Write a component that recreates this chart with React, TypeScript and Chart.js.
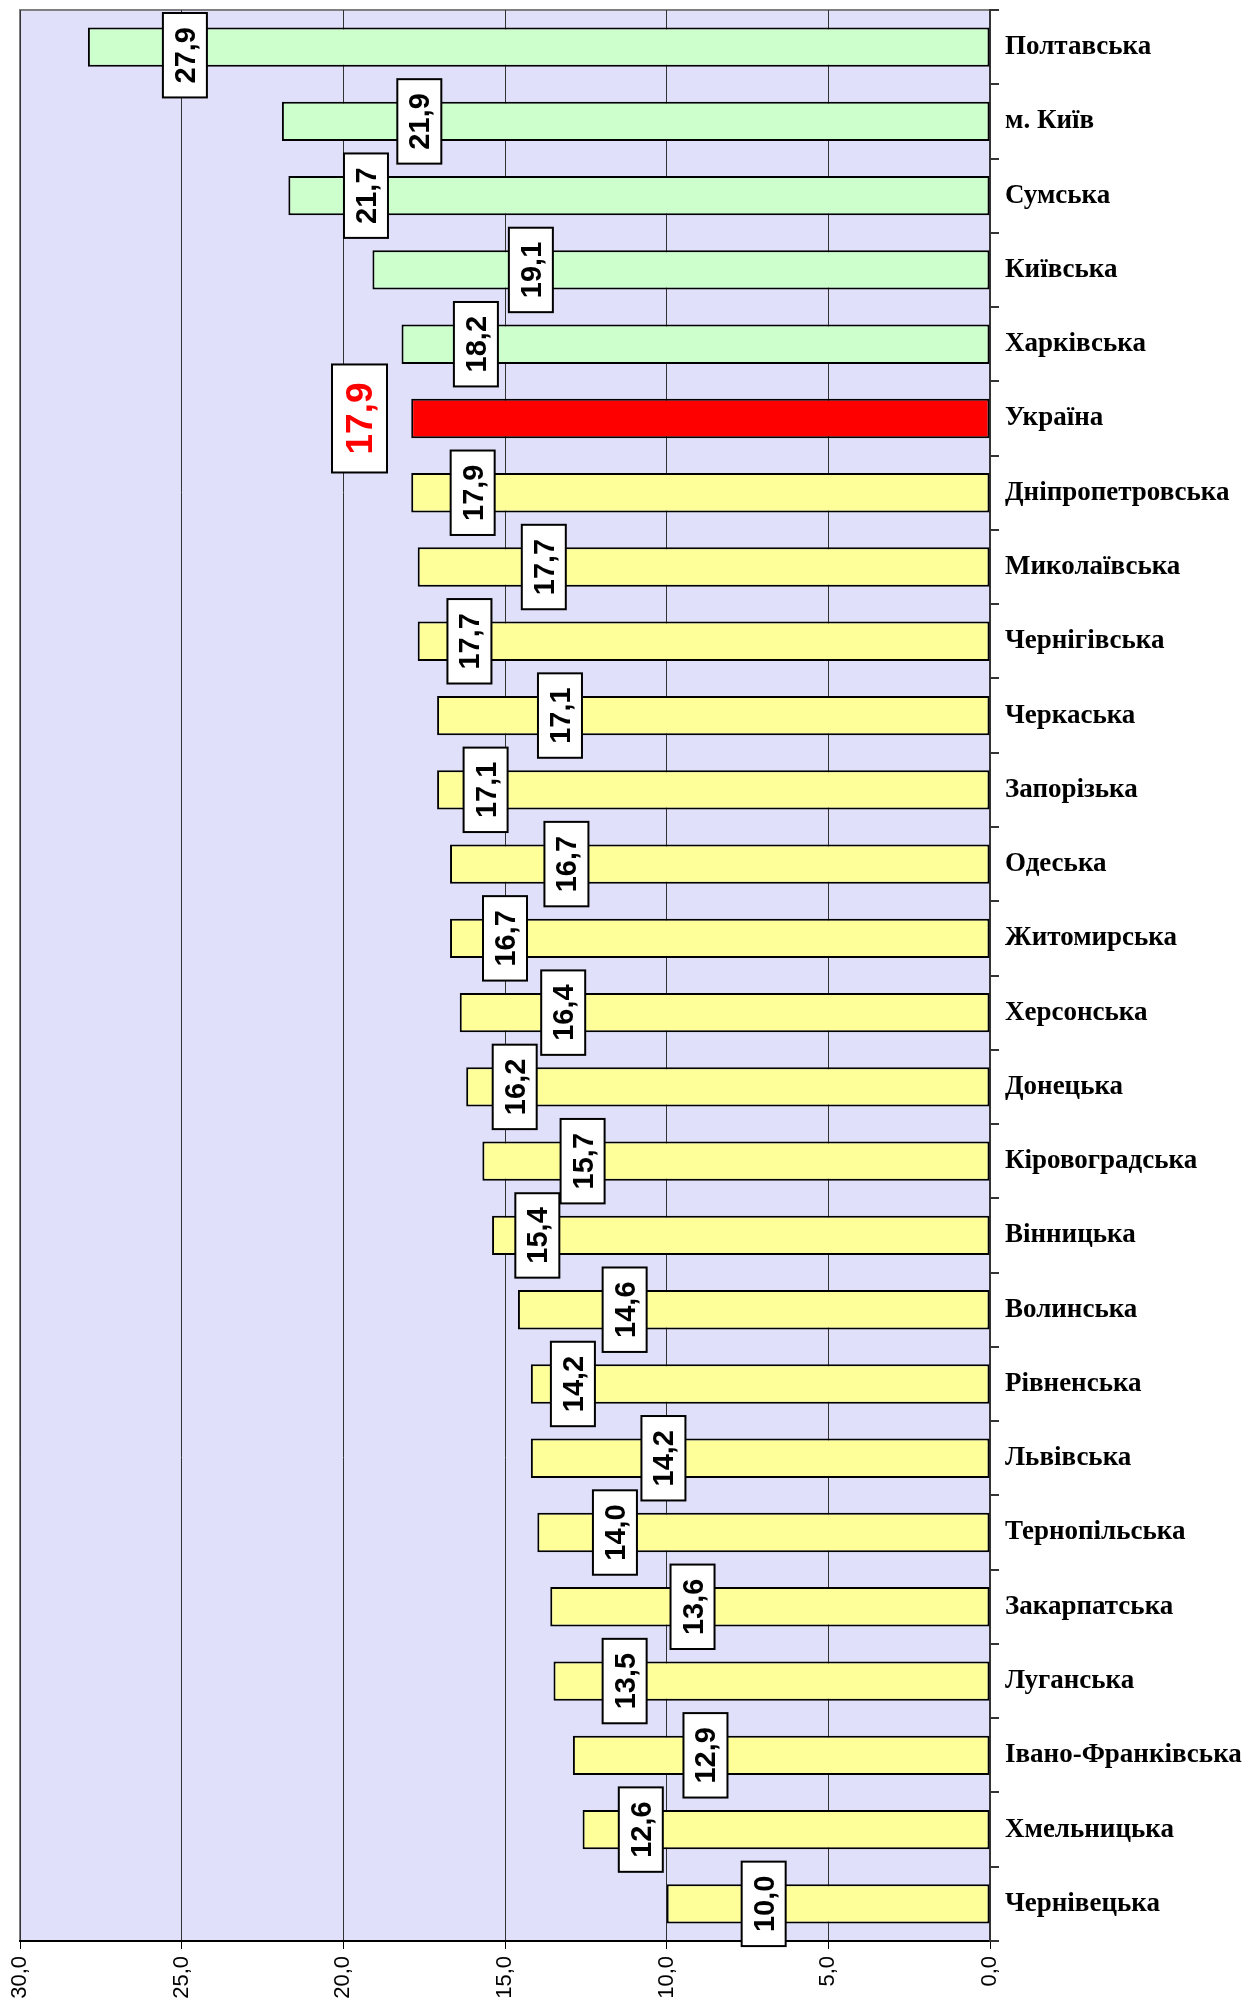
import React, { useEffect, useRef } from "react";
import { Chart, registerables } from "chart.js";

Chart.register(...registerables);

const categories = [
  "Полтавська", "м. Київ", "Сумська", "Київська", "Харківська", "Україна",
  "Дніпропетровська", "Миколаївська", "Чернігівська", "Черкаська", "Запорізька",
  "Одеська", "Житомирська", "Херсонська", "Донецька", "Кіровоградська",
  "Вінницька", "Волинська", "Рівненська", "Львівська", "Тернопільська",
  "Закарпатська", "Луганська", "Івано-Франківська", "Хмельницька", "Чернівецька",
];

const values = [
  27.9, 21.9, 21.7, 19.1, 18.2, 17.9,
  17.9, 17.7, 17.7, 17.1, 17.1,
  16.7, 16.7, 16.4, 16.2, 15.7,
  15.4, 14.6, 14.2, 14.2, 14.0,
  13.6, 13.5, 12.9, 12.6, 10.0,
];

// group of each bar: 0 = above national level, 1 = Ukraine, 2 = below
const groups = [
  0, 0, 0, 0, 0, 1,
  2, 2, 2, 2, 2,
  2, 2, 2, 2, 2,
  2, 2, 2, 2, 2,
  2, 2, 2, 2, 2,
];

// value (in axis units) where each data label box is centred, as placed in the original
const labelAnchors = [
  24.9, 17.65, 19.3, 14.2, 15.9, 19.5,
  16.0, 13.8, 16.1, 13.3, 15.6,
  13.1, 15.0, 13.2, 14.7, 12.6,
  14.0, 11.3, 12.9, 10.1, 11.6,
  9.2, 11.3, 8.8, 10.8, 7.0,
];

const xTicks = [0, 5, 10, 15, 20, 25, 30];

const fmt = (v: number) => v.toFixed(1).replace(".", ",");

const groupColors = ["#CCFFCC", "#FF0000", "#FFFF99"];

const plotBgPlugin = {
  id: "plotBg",
  beforeDraw(chart: any) {
    const { ctx, chartArea } = chart;
    ctx.save();
    ctx.fillStyle = "#E0E0FA";
    ctx.fillRect(chartArea.left, chartArea.top, chartArea.right - chartArea.left, chartArea.bottom - chartArea.top);
    ctx.strokeStyle = "#808080";
    ctx.lineWidth = 2;
    ctx.strokeRect(chartArea.left, chartArea.top, chartArea.right - chartArea.left, chartArea.bottom - chartArea.top);
    ctx.restore();
  },
};

const labelPlugin = {
  id: "boxLabels",
  afterDatasetsDraw(chart: any) {
    const { ctx, chartArea } = chart;
    const meta = chart.getDatasetMeta(0);
    const xScale = chart.scales.x;
    meta.data.forEach((el: any, i: number) => {
      const big = groups[i] === 1;
      const x = xScale.getPixelForValue(labelAnchors[i]);
      ctx.save();
      ctx.font = big ? "bold 37px 'Liberation Sans', Arial, sans-serif" : "bold 29px 'Liberation Sans', Arial, sans-serif";
      const text = fmt(values[i]);
      const tw = ctx.measureText(text).width;
      const along = big ? tw + 36 : tw + 28;
      const across = big ? 55 : 44;
      // keep the box inside the plot area (top edge)
      const y = Math.max(el.y, chartArea.top + 3 + along / 2);
      ctx.translate(x, y);
      ctx.rotate(-Math.PI / 2);
      ctx.fillStyle = "#FFFFFF";
      ctx.fillRect(-along / 2, -across / 2, along, across);
      ctx.strokeStyle = "#000000";
      ctx.lineWidth = 2;
      ctx.strokeRect(-along / 2, -across / 2, along, across);
      ctx.fillStyle = big ? "#FF0000" : "#000000";
      ctx.textAlign = "center";
      ctx.textBaseline = "middle";
      ctx.fillText(text, 0, 2);
      ctx.restore();
    });
  },
};

export default function App() {
  const canvasRef = useRef<HTMLCanvasElement | null>(null);

  useEffect(() => {
    if (!canvasRef.current) return;
    const chart = new Chart(canvasRef.current, {
      type: "bar",
      data: {
        labels: categories,
        datasets: [
          {
            data: values,
            backgroundColor: groups.map((g) => groupColors[g]),
            borderColor: "#000000",
            borderWidth: 2,
            borderSkipped: false,
            barPercentage: 0.53,
            categoryPercentage: 1,
          },
        ],
      },
      options: {
        indexAxis: "y",
        animation: false,
        responsive: true,
        maintainAspectRatio: false,
        layout: { padding: { left: 12, top: 2, right: 0, bottom: 0 } },
        plugins: {
          legend: { display: false },
          tooltip: { enabled: false },
        },
        scales: {
          x: {
            type: "linear",
            reverse: true,
            min: 0,
            max: 30,
            afterBuildTicks: (scale: any) => {
              scale.ticks = xTicks.map((v) => ({ value: v }));
            },
            afterFit: (scale: any) => {
              scale.height = 63;
              scale.paddingLeft = 0;
              scale.paddingRight = 0;
            },
            ticks: {
              stepSize: 5,
              minRotation: 90,
              maxRotation: 90,
              padding: 7,
              color: "#000000",
              font: { family: "'Liberation Sans', Arial, sans-serif", size: 22 },
              callback: (v: any) => fmt(Number(v)),
            },
            grid: {
              color: "#333333",
              lineWidth: 1,
              drawTicks: true,
              tickLength: 8,
              tickColor: "#000000",
            },
            border: { display: true, color: "#000000", width: 2 },
          },
          y: {
            position: "right",
            offset: true,
            afterFit: (scale: any) => {
              scale.width = 261;
              scale.paddingTop = 0;
              scale.paddingBottom = 0;
            },
            ticks: {
              autoSkip: false,
              padding: 6,
              color: "#000000",
              font: { family: "'Liberation Serif', 'Times New Roman', serif", size: 27, weight: "bold" },
            },
            grid: {
              offset: true,
              drawOnChartArea: false,
              drawTicks: true,
              tickLength: 9,
              tickColor: "#333333",
              lineWidth: 2,
            },
            border: { display: true, color: "#333333", width: 2 },
          },
        },
      },
      plugins: [plotBgPlugin, labelPlugin],
    });
    return () => chart.destroy();
  }, []);

  return (
    <div style={{ width: 1243, height: 1996, position: "relative" }}>
      <canvas ref={canvasRef} />
    </div>
  );
}
